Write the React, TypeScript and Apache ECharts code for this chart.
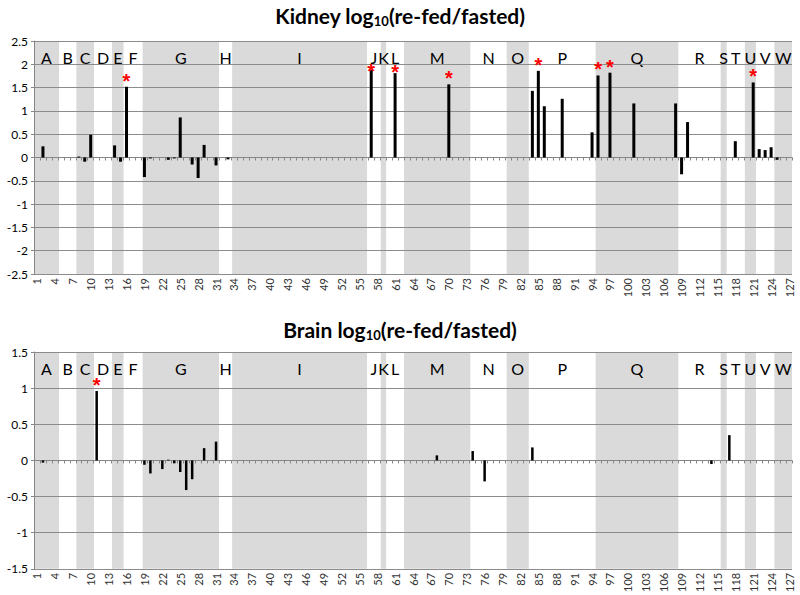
import React, { useEffect, useRef } from "react";
import * as echarts from "echarts";

// ---- data ----
const categories: string[] = Array.from({ length: 127 }, (_, i) => String(i + 1));

const kidneyBars: [number, number][] = [
  [2, 0.24], [8, 0.02], [9, -0.09], [10, 0.49], [14, 0.26], [15, -0.09], [16, 1.52],
  [19, -0.42], [20, -0.02], [23, -0.05], [24, -0.02], [25, 0.86], [27, -0.15], [28, -0.44],
  [29, 0.27], [31, -0.17], [33, -0.04],
  [57, 1.88], [61, 1.81], [70, 1.57],
  [84, 1.43], [85, 1.86], [86, 1.1], [89, 1.26], [94, 0.54], [95, 1.76], [97, 1.82],
  [101, 1.16], [108, 1.16], [109, -0.36], [110, 0.76], [118, 0.35], [121, 1.61],
  [122, 0.18], [123, 0.16], [124, 0.22], [125, -0.05],
];
const kidneySig: number[] = [16, 57, 61, 70, 85, 95, 97, 121];
// asterisks that sit lower in the original (near the group letters)
const lowStars: Record<number, number> = { 57: -8.5, 61: -6 };

const brainBars: [number, number][] = [
  [2, -0.03], [11, 0.96], [19, -0.06], [20, -0.18], [22, -0.12], [23, 0.01], [24, -0.04],
  [25, -0.16], [26, -0.41], [27, -0.26], [29, 0.17], [31, 0.26], [68, 0.07], [74, 0.13],
  [76, -0.29], [84, 0.18], [114, -0.05], [117, 0.35],
];
const brainSig: number[] = [11];

const bandLetters: string[] = [
  "A", "B", "C", "D", "E", "F", "G", "H", "I", "J", "K", "L",
  "M", "N", "O", "P", "Q", "R", "S", "T", "U", "V", "W",
];
const bandEdges: number[] = [
  0, 4.2, 7.1, 10.05, 13.07, 15.0, 18.2, 31.0, 33.2, 55.8, 58.1, 59.0, 62.0,
  73.1, 79.2, 82.9, 94.1, 107.95, 115.05, 116.05, 119.1, 120.96, 124.05, 127,
];

const kidneyTicks = { min: -2.5, max: 2.5, interval: 0.5 };
const brainTicks = { min: -1.5, max: 1.5, interval: 0.5 };

const FONT = "Lato";

function buildBarData(bars: [number, number][], sig: number[]) {
  return categories.map((_, i) => {
    const cat = i + 1;
    const f = bars.find((b) => b[0] === cat);
    const v = f ? f[1] : null;
    if (sig.includes(cat)) {
      const label: any = { show: true };
      if (lowStars[cat] !== undefined) label.distance = lowStars[cat];
      return { value: v, label };
    }
    return v;
  });
}

function bandSeries(xAxisIndex: number, yAxisIndex: number, yMin: number, yMax: number) {
  const data = bandLetters.map((_, i) => [bandEdges[i], bandEdges[i + 1]]);
  return {
    type: "custom",
    xAxisIndex,
    yAxisIndex,
    z: -1,
    silent: true,
    data,
    renderItem: (params: any, api: any) => {
      const s = api.value(0);
      const e = api.value(1);
      const p0 = api.coord([s, yMax]);
      const p1 = api.coord([e, yMin]);
      const shaded = params.dataIndex % 2 === 0;
      return {
        type: "group",
        children: [
          {
            type: "rect",
            shape: { x: p0[0], y: p0[1], width: p1[0] - p0[0], height: p1[1] - p0[1] },
            style: { fill: shaded ? "#dadada" : "rgba(0,0,0,0)" },
          },
          {
            type: "text",
            style: {
              text: bandLetters[params.dataIndex],
              x: (p0[0] + p1[0]) / 2,
              y: p0[1] + 16,
              align: "center",
              verticalAlign: "middle",
              fill: "#000",
              fontFamily: FONT,
              fontSize: 16,
              lineHeight: 14,
            },
          },
        ],
      };
    },
  };
}

function titleOpt(name: string, top: number) {
  return {
    text: `{b|${name} log}{s|10}{b|(re-fed/fasted)}`,
    left: "center",
    top,
    padding: 0,
    textStyle: {
      rich: {
        b: { fontFamily: FONT, fontSize: 21, fontWeight: "bold", color: "#000", lineHeight: 24 },
        s: {
          fontFamily: FONT, fontSize: 13, fontWeight: "bold", color: "#000",
          lineHeight: 12, verticalAlign: "bottom",
        },
      },
    },
  };
}

function catAxis(gridIndex: number) {
  return {
    type: "category",
    gridIndex,
    data: categories,
    axisLine: { onZero: true, lineStyle: { color: "#868686" } },
    axisTick: { show: true, interval: 0, length: 3, lineStyle: { color: "#868686" } },
    axisLabel: { interval: 2, rotate: 90, fontSize: 11, fontFamily: FONT, color: "#333", margin: 4 },
    splitLine: { show: false },
  };
}

function valAxisHidden(gridIndex: number) {
  return { type: "value", gridIndex, min: 0, max: 127, show: false };
}

function yAxis(gridIndex: number, t: { min: number; max: number; interval: number }) {
  return {
    type: "value",
    gridIndex,
    min: t.min,
    max: t.max,
    interval: t.interval,
    axisLine: { show: true, onZero: false, lineStyle: { color: "#868686" } },
    axisTick: { show: true, length: 3, lineStyle: { color: "#868686" } },
    axisLabel: { fontSize: 12, fontFamily: FONT, color: "#000", margin: 6 },
    splitLine: { show: true, lineStyle: { color: "#8c8c8c" } },
  };
}

function barSeries(xAxisIndex: number, yAxisIndex: number, data: any[], width: number) {
  return {
    type: "bar",
    xAxisIndex,
    yAxisIndex,
    barWidth: width,
    itemStyle: { color: "#000" },
    data,
    label: {
      show: false,
      position: "top",
      formatter: "*",
      color: "#ff0000",
      fontSize: 20,
      lineHeight: 14,
      fontWeight: "bold",
      fontFamily: "Liberation Sans",
      distance: -1,
    },
  };
}

export default function App() {
  const ref = useRef<HTMLDivElement>(null);
  useEffect(() => {
    if (!ref.current) return;
    const chart = echarts.init(ref.current, null, { renderer: "svg" });
    chart.setOption({
      animation: false,
      backgroundColor: "#fff",
      title: [titleOpt("Kidney", 3), titleOpt("Brain", 317)],
      grid: [
        { left: 34, right: 8, top: 41, height: 233 },
        { left: 34, right: 8, top: 352, height: 233 },
      ],
      xAxis: [catAxis(0), valAxisHidden(0), catAxis(1), valAxisHidden(1)],
      yAxis: [yAxis(0, kidneyTicks), yAxis(1, brainTicks)],
      series: [
        bandSeries(1, 0, kidneyTicks.min, kidneyTicks.max),
        bandSeries(3, 1, brainTicks.min, brainTicks.max),
        barSeries(0, 0, buildBarData(kidneyBars, kidneySig), 3),
        barSeries(2, 1, buildBarData(brainBars, brainSig), 2.5),
      ],
    });
    return () => chart.dispose();
  }, []);
  return (
    <div
      ref={ref}
      style={{ position: "fixed", left: 0, top: 0, width: 800, height: 595, background: "#fff" }}
    />
  );
}
